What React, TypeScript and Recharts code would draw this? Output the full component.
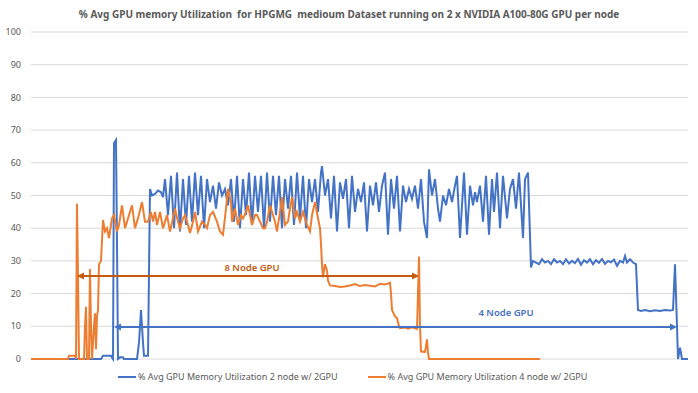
import React from 'react';
import { LineChart, Line, XAxis, YAxis, CartesianGrid, ReferenceLine, ReferenceDot } from 'recharts';

const BLUE = '#4472C4';
const ORANGE = '#ED7D31';
const DARK_ORANGE = '#C55A11';
const TEXT = '#595959';
const FONT = '"Noto Sans", "Open Sans", sans-serif';

const title = '% Avg GPU memory Utilization  for HPGMG  medioum Dataset running on 2 x NVIDIA A100-80G GPU per node';
const seriesNames = [
  '% Avg GPU Memory Utilization 2 node w/ 2GPU',
  '% Avg GPU Memory Utilization 4 node w/ 2GPU',
];
const yTicks = [0, 10, 20, 30, 40, 50, 60, 70, 80, 90, 100];

// [time step, % utilization]
const twoNodeSamples: [number, number][] = [
  [31, 0], [101, 0], [103, 1], [111, 1], [112, 0.5], [113, 0], [114, 66], [116, 67], [117, 35], [118, 0],
  [120, 0.5], [123, 0.5], [124, 0], [137, 0], [139, 5], [141, 15], [143, 5], [144, 1], [148, 1], [150, 52],
  [152, 50], [155, 50.5], [158, 51.5], [161, 51], [163, 49.5],
  [165, 55], [168, 44], [171, 56], [174, 40], [177, 57], [180, 39], [183, 55], [186, 41], [189, 56], [192, 42],
  [195, 57], [198, 44], [201, 56], [204, 40], [207, 55], [210, 48], [213, 53], [216, 46], [219, 54], [222, 50],
  [225, 52], [228, 47], [231, 55], [234, 42], [237, 56], [240, 40], [243, 55], [246, 44], [249, 57], [252, 41],
  [255, 56], [258, 45], [261, 56], [264, 40], [267, 57], [270, 42], [273, 56], [276, 44], [279, 56], [282, 40],
  [285, 55], [288, 46], [291, 56], [294, 41], [297, 57], [300, 43], [303, 56], [306, 40], [309, 55], [312, 48],
  [315, 55], [318, 45], [321, 57], [322, 59], [325, 50], [328, 55], [331, 43], [334, 56], [337, 39], [340, 54],
  [343, 49], [346, 55], [349, 40], [352, 56], [355, 45], [358, 52], [361, 48], [364, 54], [367, 39], [370, 53],
  [373, 47], [376, 54], [379, 45], [382, 53], [385, 57], [388, 38], [391, 55], [394, 46], [397, 56], [400, 39],
  [403, 53], [406, 48], [409, 52], [412, 49], [415, 53], [418, 46], [421, 55], [424, 42], [427, 37], [429, 58],
  [432, 50], [435, 55], [438, 46], [440, 42], [443, 50], [446, 47], [449, 52], [452, 48], [455, 53], [457, 56],
  [460, 37], [464, 57], [467, 38], [470, 53], [473, 47], [475, 51], [477, 48], [480, 53], [483, 42], [486, 56],
  [489, 38], [492, 55], [494, 45], [497, 57], [500, 40], [503, 56], [507, 43], [510, 52], [513, 55], [516, 46],
  [519, 57], [523, 37], [525, 55], [528, 57], [531, 28],
  [533, 30], [536, 29.5], [539, 29], [542, 30.5], [545, 29.5], [548, 30], [551, 29], [554, 30.5], [557, 29.5],
  [560, 30], [563, 29], [566, 30.5], [569, 29.2], [572, 30], [575, 29.3], [578, 30.6], [581, 28.8], [584, 30.2],
  [587, 29.5], [590, 30.5], [593, 29], [596, 30.2], [599, 29.4], [602, 30.6], [605, 29.1], [608, 30], [611, 29.6],
  [614, 30.4], [617, 28.5], [620, 30], [623, 29.5], [625, 31.5], [627, 29.5], [630, 30.5], [633, 29.5], [636, 29],
  [638, 15], [641, 14.7], [645, 15], [650, 14.6], [655, 14.9], [660, 14.7], [665, 15], [670, 14.8], [673, 15],
  [675, 29], [677, 10], [678, 0], [680, 3.5], [682, 0], [688, 0],
];

const fourNodeSamples: [number, number][] = [
  [31, 0], [68, 0], [69, 1], [75, 1], [76, 0], [77, 47.5], [78, 25], [79, 0], [84, 0], [85, 10],
  [86, 16], [87, 0], [89, 0], [90, 27.5], [91, 10], [92, 0], [93, 5], [94, 10], [95, 14], [96, 3],
  [97, 13], [98, 15], [99, 29], [101, 30], [103, 42.5], [105, 39], [107, 40], [109, 37], [112, 43], [114, 44],
  [117, 39], [119, 41], [122, 47], [125, 40], [128, 43], [132, 47], [135, 40], [138, 43], [142, 48], [145, 42],
  [148, 42], [151, 45], [153, 42], [155, 45], [157, 41], [160, 45], [163, 40], [167, 44], [170, 39], [173, 43],
  [175, 46], [178, 42], [180, 40], [183, 43], [185, 44], [188, 41], [190, 38.5], [193, 42], [195, 45], [198, 39],
  [202, 42], [205, 41], [207, 40], [210, 44], [213, 45], [217, 42], [220, 39], [223, 38], [226, 46], [228, 52],
  [231, 48], [232, 42], [235, 46], [238, 41], [241, 44], [243, 43], [246, 45], [248, 47], [252, 41], [255, 44],
  [257, 44], [260, 42], [263, 40], [265, 40], [267, 42], [270, 47], [273, 44], [275, 42], [277, 39], [280, 45],
  [282, 49.5], [285, 41], [288, 42], [290, 46], [292, 49.5], [295, 43], [297, 45], [300, 42], [303, 45], [305, 43],
  [307, 41], [310, 39], [312, 44], [315, 48], [318, 43], [320, 40], [321, 35], [322, 29], [323, 25], [325, 29],
  [327, 27], [328, 24], [330, 22.5], [335, 22.3], [340, 22], [345, 22.2], [350, 22.5], [355, 22.9], [360, 22.3],
  [365, 22.6], [370, 22.4], [375, 22.2], [380, 23], [385, 22.8], [390, 23.3], [391, 20], [392, 15], [395, 13],
  [397, 12.5], [399, 10], [400, 9.4], [405, 9.6], [408, 9.3], [412, 9.7], [415, 9.4], [417, 9.2], [418, 20],
  [419, 31.3], [420, 10], [421, 2.3], [425, 2.2], [426, 4], [427, 6], [428, 2], [429, 0], [540, 0],
];

// annotation spans: [start, end, level]
const eightNodeSpan = [77, 419, 25.4];
const fourNodeSpan = [114, 677, 9.8];
const spanLabels = ['8 Node GPU', '4 Node GPU'];
const spanLabelPos = [[252, 28.1], [506, 14.3]];

const twoNodeData = twoNodeSamples.map(([t, v]) => ({ t, v }));
const fourNodeData = fourNodeSamples.map(([t, v]) => ({ t, v }));

const arrowShape = (color: string) => (props: any) => {
  const { x1, y1, x2, y2 } = props;
  const h = 7;
  const w = 3.5;
  return (
    <g>
      <line x1={x1 + 2} y1={y1} x2={x2 - 2} y2={y2} stroke={color} strokeWidth={2} />
      <polygon points={`${x1},${y1} ${x1 + h},${y1 - w} ${x1 + h},${y1 + w}`} fill={color} />
      <polygon points={`${x2},${y2} ${x2 - h},${y2 - w} ${x2 - h},${y2 + w}`} fill={color} />
    </g>
  );
};

const labelShape = (text: string, color: string) => (props: any) => (
  <text
    x={props.cx}
    y={props.cy}
    textAnchor="middle"
    dominantBaseline="central"
    fill={color}
    fontSize={9.5}
    fontWeight={600}
    fontFamily={FONT}
  >
    {text}
  </text>
);

const LegendItem = ({ color, name }: { color: string; name: string }) => (
  <div style={{ display: 'flex', alignItems: 'center' }}>
    <div style={{ width: 18, height: 2, background: color, marginRight: 2 }} />
    <span>{name}</span>
  </div>
);

export default function App() {
  return (
    <div style={{ position: 'absolute', left: 0, top: 0, width: 698, height: 393, background: '#fff', fontFamily: FONT }}>
      <div
        style={{
          position: 'absolute', top: 6, left: 0, width: 698, textAlign: 'center',
          fontSize: 10, fontWeight: 700, color: TEXT, whiteSpace: 'pre', lineHeight: '16px',
        }}
      >
        {title}
      </div>
      <LineChart width={698} height={393} margin={{ top: 32, right: 10, bottom: 34, left: 0 }}>
        <CartesianGrid vertical={false} stroke="#D9D9D9" strokeWidth={1} />
        <XAxis type="number" dataKey="t" domain={[31, 688]} hide allowDuplicatedCategory={false} />
        <YAxis
          domain={[0, 100]}
          ticks={yTicks}
          width={31}
          axisLine={false}
          tickLine={false}
          tickMargin={4}
          tick={{ fill: TEXT, fontSize: 9, fontFamily: FONT }}
          interval={0}
        />
        <Line data={twoNodeData} dataKey="v" type="linear" stroke={BLUE} strokeWidth={2} dot={false}
          isAnimationActive={false} name={seriesNames[0]} />
        <Line data={fourNodeData} dataKey="v" type="linear" stroke={ORANGE} strokeWidth={2} dot={false}
          isAnimationActive={false} name={seriesNames[1]} />
        <ReferenceLine
          segment={[{ x: eightNodeSpan[0], y: eightNodeSpan[2] }, { x: eightNodeSpan[1], y: eightNodeSpan[2] }]}
          shape={arrowShape(DARK_ORANGE)}
        />
        <ReferenceLine
          segment={[{ x: fourNodeSpan[0], y: fourNodeSpan[2] }, { x: fourNodeSpan[1], y: fourNodeSpan[2] }]}
          shape={arrowShape(BLUE)}
        />
        <ReferenceDot x={spanLabelPos[0][0]} y={spanLabelPos[0][1]} r={0} shape={labelShape(spanLabels[0], DARK_ORANGE)} />
        <ReferenceDot x={spanLabelPos[1][0]} y={spanLabelPos[1][1]} r={0} shape={labelShape(spanLabels[1], BLUE)} />
      </LineChart>
      <div
        style={{
          position: 'absolute', top: 370, left: 118, display: 'flex', gap: 30,
          fontSize: 9, color: TEXT, lineHeight: '14px',
        }}
      >
        <LegendItem color={BLUE} name={seriesNames[0]} />
        <LegendItem color={ORANGE} name={seriesNames[1]} />
      </div>
    </div>
  );
}
